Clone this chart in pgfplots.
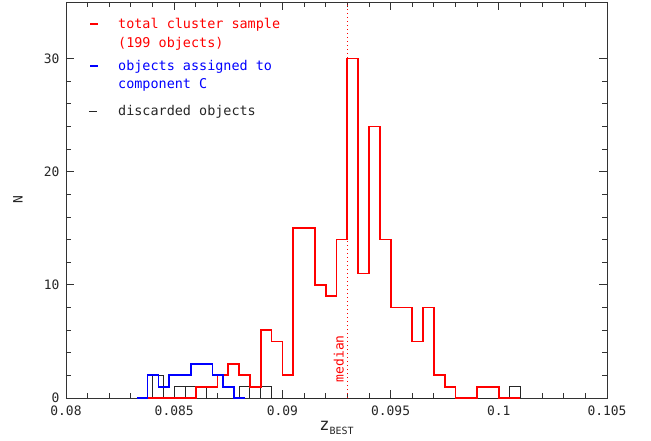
\documentclass[border=0pt]{standalone}
\usepackage{fontspec}
\setmainfont{DejaVu Sans Mono}
\setmonofont{DejaVu Sans Mono}
\usepackage{pgfplots}
\pgfplotsset{compat=1.18}
\definecolor{pgred}{RGB}{255,0,0}
\definecolor{pgblue}{RGB}{0,0,255}
\begin{document}
\begin{tikzpicture}
\begin{axis}[
  scale only axis, width=541bp, height=396bp,
  xmin=0.08, xmax=0.105, ymin=0, ymax=35,
  xtick={0.08,0.085,0.09,0.095,0.1,0.105},
  xticklabels={0.08,0.085,0.09,0.095,0.1,0.105},
  ytick={0,10,20,30}, yticklabels={0,10,20,30},
  minor x tick num=4, minor y tick num=4,
  scaled x ticks=false,
  tick align=inside, xtick pos=both, ytick pos=both,
  major tick length=8bp, minor tick length=5bp,
  axis line style={line width=0.9bp, black!80},
  every tick/.style={line width=0.9bp, black!80},
  tick label style={font=\fontsize{13}{15}\selectfont, text=black!85},
  xticklabel style={yshift=-4bp},
  yticklabel style={xshift=-3bp},
  /pgf/number format/assume math mode=true,
  xlabel={{\fontsize{17}{17}\selectfont z}\raisebox{-3.5bp}{\fontsize{10}{10}\selectfont BEST}},
  ylabel={N},
  every axis x label/.style={at={(axis description cs:0.5,0)}, anchor=center, yshift=-30bp},
  every axis y label/.style={at={(axis description cs:0,0.5)}, anchor=center, rotate=90, yshift=48bp},
  label style={font=\fontsize{13}{15}\selectfont, text=black!85},
  clip=false,
]
% discarded objects (drawn first)
\addplot[black!85, line width=1bp, const plot] coordinates {
 (0.0835,0) (0.0840,2) (0.0845,0) (0.0850,1) (0.0855,0) (0.0855,1) (0.0860,0) (0.0860,1) (0.0865,0)
 (0.0870,0) (0.0875,0) (0.0880,1) (0.0885,0) (0.0885,1) (0.0890,0) (0.0890,1) (0.0895,0)
 (0.0900,0) (0.1005,1) (0.1010,0) };
% total cluster sample
\addplot[pgred, line width=1.8bp, const plot] coordinates {
 (0.0835,0) (0.0840,0) (0.0845,0) (0.0850,0) (0.0855,0) (0.0860,1) (0.0865,1) (0.0870,2) (0.0875,3)
 (0.0880,2) (0.0885,1) (0.0890,6) (0.0895,5) (0.0900,2) (0.0905,15) (0.0910,15) (0.0915,10)
 (0.0920,9) (0.0925,14) (0.0930,30) (0.0935,11) (0.0940,24) (0.0945,14) (0.0950,8) (0.0955,8)
 (0.0960,5) (0.0965,8) (0.0970,2) (0.0975,1) (0.0980,0) (0.0985,0) (0.0990,1) (0.0995,1)
 (0.1000,0) (0.1005,0) (0.1010,0) };
% objects assigned to component C
\addplot[pgblue, line width=1.8bp, const plot] coordinates {
 (0.08327,0) (0.08377,2) (0.08427,1) (0.08477,2) (0.08527,2) (0.08577,3) (0.08627,3)
 (0.08677,2) (0.08727,1) (0.08777,0) (0.08827,0) };
% median
\addplot[pgred, line width=1.1bp, dash pattern=on 1.2bp off 2.8bp] coordinates {(0.093,0) (0.093,35)};
\node[rotate=90, text=pgred, font=\fontsize{13}{15}\selectfont] at (axis cs:0.09261,3.47) {median};
% legend
\draw[pgred, line width=1.8bp] (axis description cs:0.0444,0.9444) -- (axis description cs:0.0591,0.9444);
\draw[pgblue, line width=1.8bp] (axis description cs:0.0444,0.8384) -- (axis description cs:0.0591,0.8384);
\draw[black!85, line width=1bp] (axis description cs:0.0425,0.7247) -- (axis description cs:0.0572,0.7247);
\begin{scope}[every node/.style={anchor=base west, inner sep=0pt, font=\fontsize{13.5}{16}\selectfont}]
\node[text=pgred] at (axis description cs:0.0961,0.9343) {total cluster sample};
\node[text=pgred] at (axis description cs:0.0961,0.8851) {(199 objects)};
\node[text=pgblue] at (axis description cs:0.0961,0.8258) {objects assigned to};
\node[text=pgblue] at (axis description cs:0.0961,0.7803) {component C};
\node[text=black!85] at (axis description cs:0.0961,0.7146) {discarded objects};
\end{scope}
\end{axis}
\path ([xshift=-66bp,yshift=-43bp]current axis.south west) rectangle ([xshift=44bp,yshift=2bp]current axis.north east);
\end{tikzpicture}
\end{document}
